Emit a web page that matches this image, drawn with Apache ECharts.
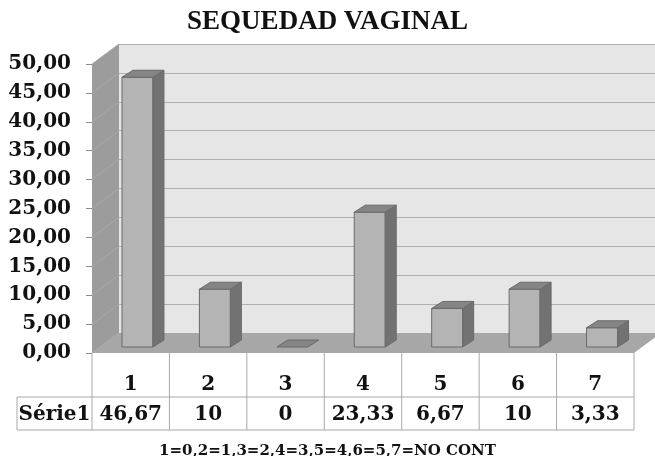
<!DOCTYPE html>
<html lang="es" style="height: 100%">
<head>
  <meta charset="utf-8">
</head>
<body style="height: 100%; margin: 0; background-color:#ffffff;">
  <div id="container" style="width: 655px; height: 456px"></div>

<script src="https://cdn.jsdelivr.net/npm/echarts@6/dist/echarts.min.js"></script>

<script>
  var dom = document.getElementById('container');
  var myChart = echarts.init(dom);

  var categories = ['1', '2', '3', '4', '5', '6', '7'];
  var values = [46.67, 10, 0, 23.33, 6.67, 10, 3.33];
  var seriesName = 'Série1';
  var footnote = '1=0,2=1,3=2,4=3,5=4,6=5,7=NO CONT';

  var SERIF = '"DejaVu Serif", serif';
  // depth of the 3d box and of each bar
  var DX = 27, DY = -20;
  var BX = 11, BY = -7;
  var lineCol = '#a8a8a8';

  function fmt(v) {
    return String(v).replace('.', ',');
  }

  // left side wall + floor, drawn from the front grid axes
  function renderWalls(params, api) {
    var cs = params.coordSys;
    var x0 = cs.x, x1 = cs.x + cs.width;
    var b = api.coord([0, 0])[1];
    var t = api.coord([0, 50])[1];
    var kids = [
      { type: 'polygon', shape: { points: [[x0, t], [x0 + DX, t + DY], [x0 + DX, b + DY], [x0, b]] },
        style: { fill: '#9c9c9c' } },
      { type: 'polygon', shape: { points: [[x0, b], [x1, b], [x1 + DX, b + DY], [x0 + DX, b + DY]] },
        style: { fill: '#a7a7a7' } }
    ];
    for (var v = 0; v <= 50; v += 5) {
      var y = api.coord([0, v])[1];
      kids.push({ type: 'line', shape: { x1: x0, y1: y, x2: x0 + DX, y2: y + DY },
        style: { stroke: '#a9a9a9', lineWidth: 1 } });
    }
    return { type: 'group', children: kids };
  }

  function renderBar(params, api) {
    var idx = api.value(0), v = api.value(1);
    var base = api.coord([idx, 0]);
    var top = api.coord([idx, v]);
    var bw = api.size([1, 0])[0];
    var w = bw * 0.4;
    var fx = DX * 0.25, fy = DY * 0.3;
    var xl = base[0] - w / 2 + fx, xr = xl + w;
    var yb = base[1] + fy, yt = top[1] + fy;
    var edge = { stroke: '#6a6a6a', lineWidth: 1 };
    var kids = [];
    if (yb - yt > 0.5) {
      kids.push({ type: 'rect', shape: { x: xl, y: yt, width: w, height: yb - yt },
        style: Object.assign({ fill: '#b4b4b4' }, edge) });
      kids.push({ type: 'polygon', shape: { points: [[xr, yt], [xr + BX, yt + BY], [xr + BX, yb + BY], [xr, yb]] },
        style: Object.assign({ fill: '#727272' }, edge) });
    }
    kids.push({ type: 'polygon', shape: { points: [[xl, yt], [xl + BX, yt + BY], [xr + BX, yt + BY], [xr, yt]] },
      style: Object.assign({ fill: '#858585' }, edge) });
    return { type: 'group', children: kids };
  }

  // data table under the floor
  function renderTable(params, api) {
    var idx = api.value(0), v = api.value(1);
    var c = api.coord([idx, 0]);
    var bw = api.size([1, 0])[0];
    var xl = c[0] - bw / 2, xr = c[0] + bw / 2;
    var y0 = c[1], y1 = c[1] + 44, y2 = c[1] + 77;
    var st = { stroke: lineCol, lineWidth: 1 };
    var kids = [
      { type: 'line', shape: { x1: xl, y1: y0, x2: xl, y2: y2 }, style: st },
      { type: 'line', shape: { x1: xl, y1: y1, x2: xr, y2: y1 }, style: st },
      { type: 'line', shape: { x1: xl, y1: y2, x2: xr, y2: y2 }, style: st },
      { type: 'text', style: { text: fmt(v), x: c[0], y: (y1 + y2) / 2 + 1, align: 'center', verticalAlign: 'middle',
        font: 'bold 20px ' + SERIF, fill: '#111' } }
    ];
    if (idx === categories.length - 1) {
      kids.push({ type: 'line', shape: { x1: xr, y1: y0, x2: xr, y2: y2 }, style: st });
    }
    if (idx === 0) {
      var lx = 17;
      kids.push({ type: 'line', shape: { x1: lx, y1: y1, x2: xl, y2: y1 }, style: st });
      kids.push({ type: 'line', shape: { x1: lx, y1: y2, x2: xl, y2: y2 }, style: st });
      kids.push({ type: 'line', shape: { x1: lx, y1: y1, x2: lx, y2: y2 }, style: st });
      kids.push({ type: 'text', style: { text: seriesName, x: (lx + xl) / 2, y: (y1 + y2) / 2 + 1, align: 'center',
        verticalAlign: 'middle', font: 'bold 20px ' + SERIF, fill: '#111' } });
    }
    return { type: 'group', children: kids };
  }

  var barData = values.map(function (v, i) { return [i, v]; });

  var option = {
    animation: false,
    title: [{
      text: 'SEQUEDAD VAGINAL',
      left: 'center',
      top: 4,
      textStyle: { fontFamily: '"Liberation Serif", serif', fontWeight: 'bold', fontSize: 27, color: '#111' }
    }, {
      text: footnote,
      left: 'center',
      top: 439,
      textStyle: { fontFamily: SERIF, fontWeight: 'bold', fontSize: 15, color: '#111' }
    }],
    grid: [
      { left: 92, top: 64, width: 542, height: 289 },
      { left: 92 + DX, top: 64 + DY, width: 542, height: 289, show: true, backgroundColor: '#e6e6e6', borderWidth: 0 }
    ],
    xAxis: [{
      type: 'category', gridIndex: 0, data: categories,
      axisLine: { show: false }, axisTick: { show: false },
      axisLabel: { margin: 22, fontFamily: SERIF, fontWeight: 'bold', fontSize: 20, color: '#111' }
    }, {
      type: 'category', gridIndex: 1, data: categories, show: false
    }],
    yAxis: [{
      type: 'value', gridIndex: 0, min: 0, max: 50, interval: 5,
      axisLine: { show: false },
      axisTick: { show: true, length: 6, lineStyle: { color: '#8c8c8c' } },
      splitLine: { show: false },
      axisLabel: { margin: 21, fontFamily: SERIF, fontWeight: 'bold', fontSize: 20, color: '#111',
        formatter: function (v) { return v.toFixed(2).replace('.', ','); } }
    }, {
      type: 'value', gridIndex: 1, min: 0, max: 50, interval: 5,
      axisLine: { show: false }, axisTick: { show: false }, axisLabel: { show: false },
      splitLine: { show: true, lineStyle: { color: '#b0b0b0', width: 1 } }
    }],
    series: [{
      type: 'custom', xAxisIndex: 0, yAxisIndex: 0, z: 1,
      data: [[0, 0]], renderItem: renderWalls, silent: true
    }, {
      type: 'custom', xAxisIndex: 0, yAxisIndex: 0, z: 3,
      data: barData, renderItem: renderBar
    }, {
      type: 'custom', xAxisIndex: 0, yAxisIndex: 0, z: 2,
      data: barData, renderItem: renderTable, silent: true
    }]
  };

  myChart.setOption(option);
  window.addEventListener('resize', myChart.resize);
</script>

</body>
</html>
